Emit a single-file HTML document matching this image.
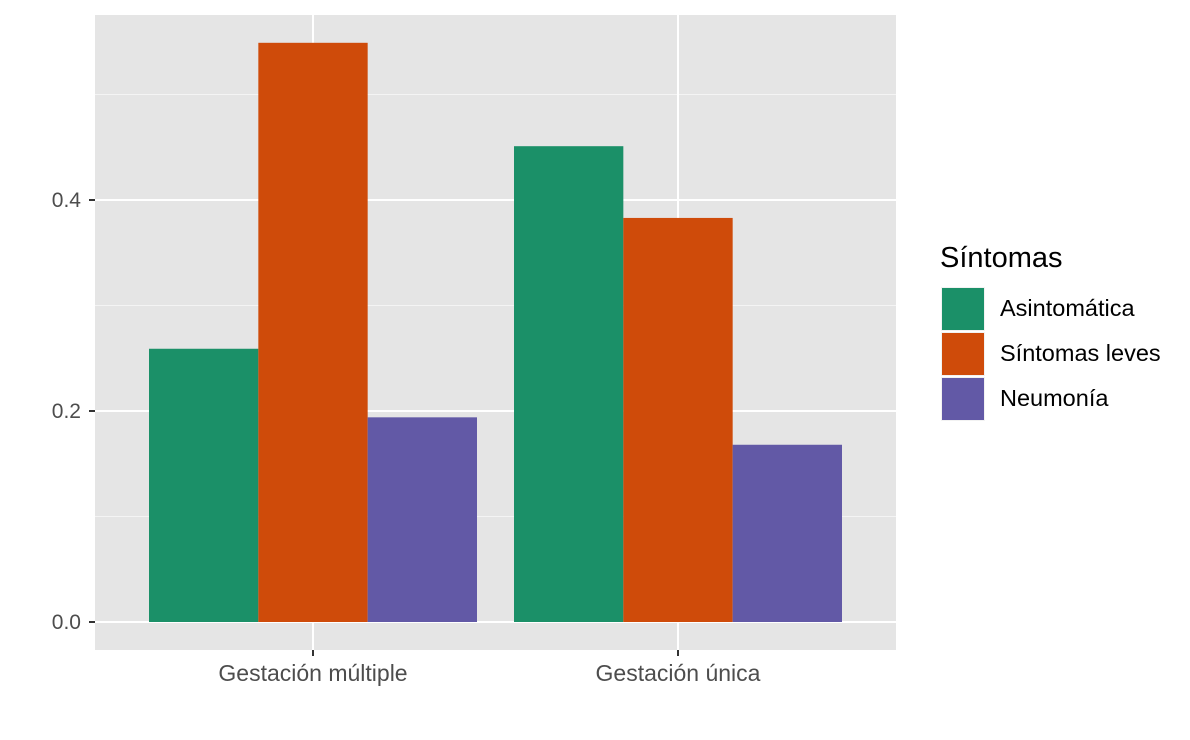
<!DOCTYPE html>
<html><head><meta charset="utf-8"><style>
body{margin:0;background:#fff;font-family:"Liberation Sans",Arial,sans-serif;}
</style></head><body>
<svg id="chart" width="1190" height="735" xmlns="http://www.w3.org/2000/svg" font-family="Liberation Sans, Arial, sans-serif"></svg>
<script>
const categories = ["Gestación múltiple", "Gestación única"];
const seriesNames = ["Asintomática", "Síntomas leves", "Neumonía"];
const asintomatica = [0.259, 0.451];
const leves = [0.549, 0.383];
const neumonia = [0.194, 0.168];
const yTicks = [0.0, 0.2, 0.4];
const yTickLabels = ["0.0", "0.2", "0.4"];
const colors = ["#1b9068", "#cf4b0a", "#6259a6"];
const series = [asintomatica, leves, neumonia];

const svg = document.getElementById('chart');
const NS = 'http://www.w3.org/2000/svg';
function mk(tag, attrs, parent){const e=document.createElementNS(NS,tag);for(const k in attrs)e.setAttribute(k,attrs[k]);(parent||svg).appendChild(e);return e;}
const px0=95, px1=896, py0=15, py1=650;
const y = v => 622 - v*1055;
const catCenter = i => 313 + i*365;
const band = 328;

const panel = mk('rect',{x:px0,y:py0,width:px1-px0,height:py1-py0,fill:'#e5e5e5'});


for(let i=0;i<yTicks.length;i++){
  const m = yTicks[i]+0.1;
  const g=mk('line',{x1:px0,x2:px1,y1:y(m),y2:y(m),stroke:'#f4f4f4','stroke-width':1});
  
  
}
yTicks.forEach((t,i)=>{
  const g=mk('line',{x1:px0,x2:px1,y1:y(t),y2:y(t),stroke:'#fff','stroke-width':2});
  
  
  const tk=mk('line',{x1:89,x2:px0,y1:y(t),y2:y(t),stroke:'#333','stroke-width':2});
  
  
  const tx=mk('text',{x:81,y:y(t)+7,'text-anchor':'end','font-size':21,fill:'#4d4d4d'});
  tx.textContent=yTickLabels[i];
  
  
});
categories.forEach((c,i)=>{
  const cx=catCenter(i);
  const g=mk('line',{x1:cx,x2:cx,y1:py0,y2:py1,stroke:'#fff','stroke-width':2});
  
  
  const tk=mk('line',{x1:cx,x2:cx,y1:py1,y2:py1+6,stroke:'#333','stroke-width':2});
  
  
  const tx=mk('text',{x:cx,y:681,'text-anchor':'middle','font-size':23,fill:'#4d4d4d'});
  tx.textContent=c;
  
  
});
const bw = band/series.length;
series.forEach((s,j)=>{
  s.forEach((v,i)=>{
    const x0=catCenter(i)-band/2+j*bw;
    const r=mk('rect',{x:x0,y:y(v),width:bw,height:y(0)-y(v),fill:colors[j]});
    
    
  });
});
const lt=mk('text',{x:940,y:267,'font-size':29,fill:'#000'});
lt.textContent='Síntomas';


seriesNames.forEach((n,j)=>{
  const ky=287+j*45;
  const k=mk('rect',{x:941,y:ky,width:44,height:44,fill:'#f2f2f2'});
  
  
  const r=mk('rect',{x:942,y:ky+1,width:42,height:42,fill:colors[j]});
  
  
  const t=mk('text',{x:1000,y:ky+29,'font-size':23.5,fill:'#000'});
  t.textContent=n;
  
  
});
</script>
</body></html>
